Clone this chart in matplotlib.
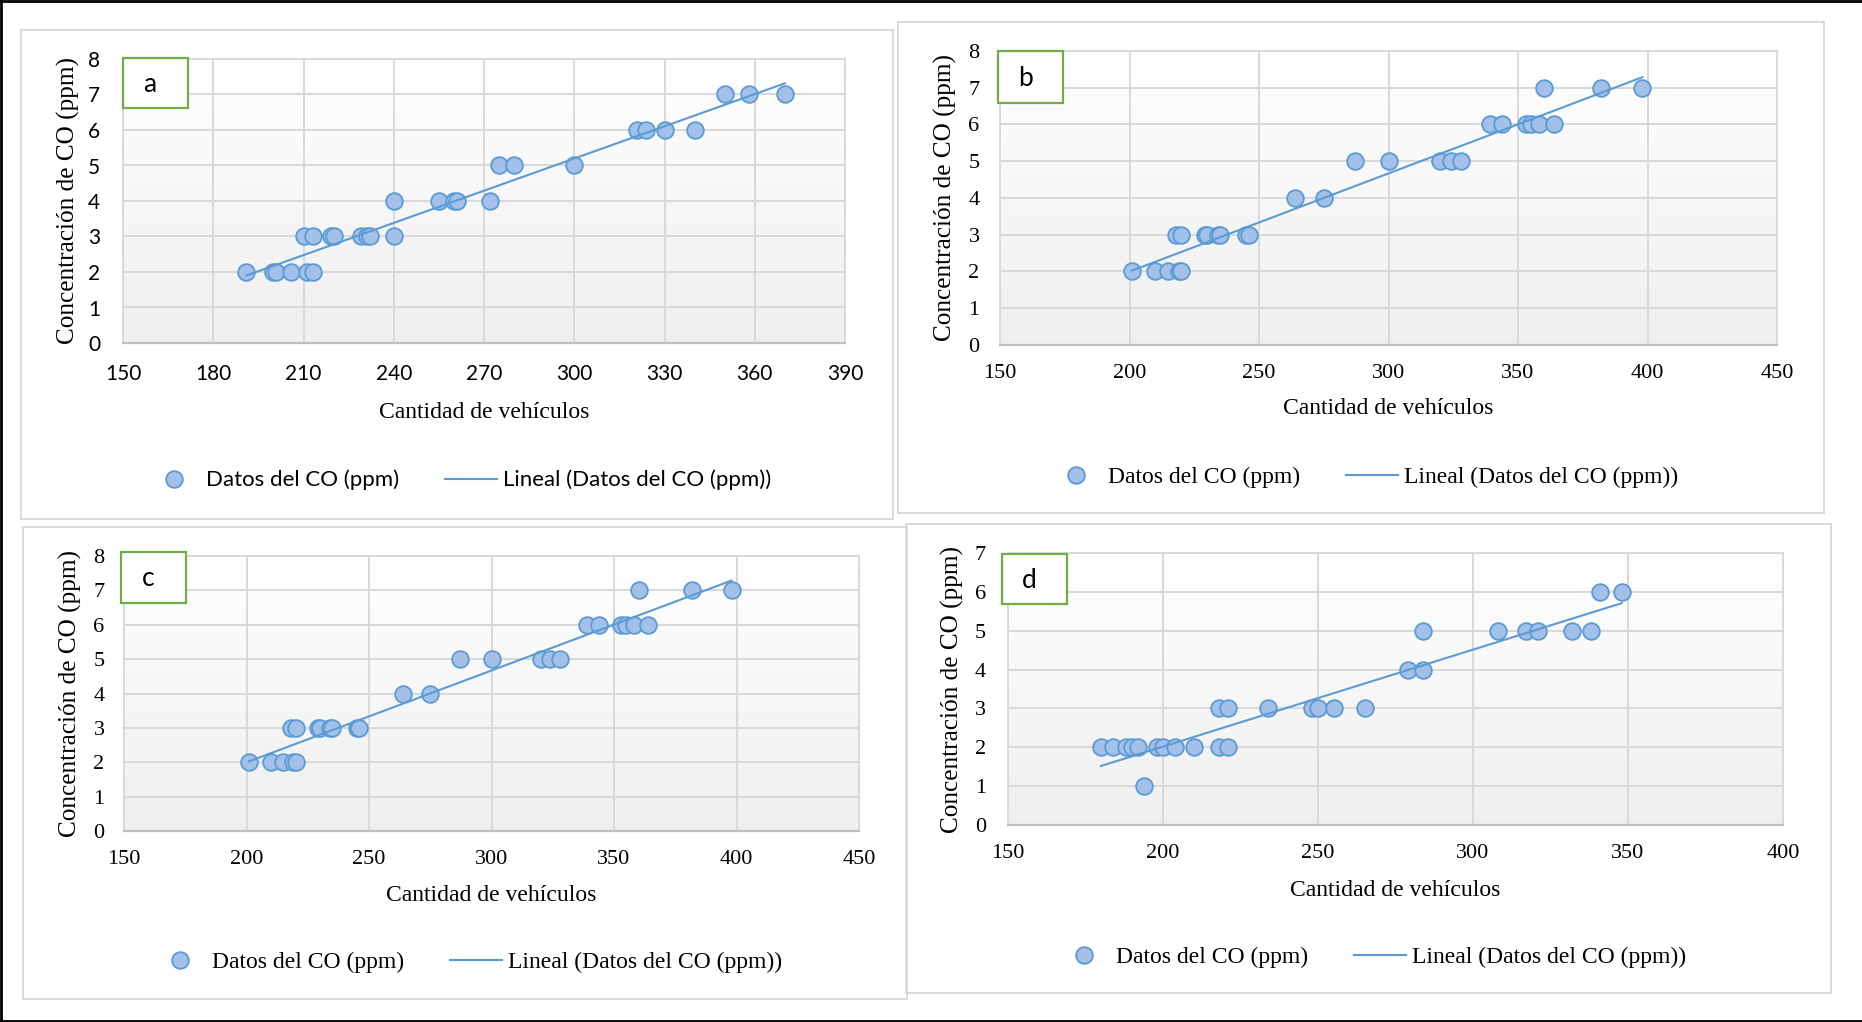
import numpy as np
import matplotlib
matplotlib.use('Agg')
import matplotlib.pyplot as plt
from matplotlib.colors import LinearSegmentedColormap
from matplotlib.lines import Line2D
from matplotlib.patches import Rectangle

# vehicle counts vs CO concentration, four sampling points
a_veh = [191, 200, 201, 206, 211, 213,
         210, 213, 219, 220, 229, 231, 232, 240,
         240, 255, 260, 261, 272,
         275, 280, 300,
         321, 324, 330, 340,
         350, 358, 370]
a_co = [2, 2, 2, 2, 2, 2,
        3, 3, 3, 3, 3, 3, 3, 3,
        4, 4, 4, 4, 4,
        5, 5, 5,
        6, 6, 6, 6,
        7, 7, 7]

b_veh = [201, 210, 215, 219, 220,
         218, 220, 229, 230, 234, 235, 245, 246,
         264, 275,
         287, 300, 320, 324, 328,
         339, 344, 353, 355, 358, 364,
         360, 382, 398]
b_co = [2, 2, 2, 2, 2,
        3, 3, 3, 3, 3, 3, 3, 3,
        4, 4,
        5, 5, 5, 5, 5,
        6, 6, 6, 6, 6, 6,
        7, 7, 7]

c_veh = [201, 210, 215, 219, 220,
         218, 220, 229, 230, 234, 235, 245, 246,
         264, 275,
         287, 300, 320, 324, 328,
         339, 344, 353, 355, 358, 364,
         360, 382, 398]
c_co = [2, 2, 2, 2, 2,
        3, 3, 3, 3, 3, 3, 3, 3,
        4, 4,
        5, 5, 5, 5, 5,
        6, 6, 6, 6, 6, 6,
        7, 7, 7]

d_veh = [194,
         180, 184, 188, 190, 192, 198, 200, 204, 210, 218, 221,
         218, 221, 234, 248, 250, 255, 265,
         279, 284,
         284, 308, 317, 321, 332, 338,
         341, 348]
d_co = [1,
        2, 2, 2, 2, 2, 2, 2, 2, 2, 2, 2,
        3, 3, 3, 3, 3, 3, 3,
        4, 4,
        5, 5, 5, 5, 5, 5,
        6, 6]

a_xticks = [150, 180, 210, 240, 270, 300, 330, 360, 390]
b_xticks = [150, 200, 250, 300, 350, 400, 450]
d_xticks = [150, 200, 250, 300, 350, 400]

XLABEL = 'Cantidad de vehículos'
YLABEL = 'Concentración de CO (ppm)'
SCATTER_LABEL = 'Datos del CO (ppm)'
TREND_LABEL = 'Lineal (Datos del CO (ppm))'

W, H = 1862, 1022
SERIF = 'Liberation Serif'
SANS = 'Lato'
FILL = '#a2c0e8'
EDGE = '#5b9bd5'
GRID = '#d9d9d9'

fig = plt.figure(figsize=(W / 100, H / 100), dpi=100)
fig.patch.set_facecolor('white')

bg_cmap = LinearSegmentedColormap.from_list('bg', ['#efefef', '#ffffff'])


def fx(x):
    return x / W


def fy(y):
    return 1 - y / H


def add_panel(box, plot, tag, veh, co, xticks, ymax, tick_font, tick_size,
              legend_font, legend_size, xpad, ypad, xlab_off, ylab_off, leg_xy):
    # panel frame
    x0, y0, x1, y1 = box
    fig.add_artist(Rectangle((fx(x0), fy(y1)), fx(x1 - x0), (y1 - y0) / H,
                             transform=fig.transFigure, fill=False,
                             edgecolor=GRID, lw=1.4, zorder=-1))

    px0, py0, px1, py1 = plot
    ax = fig.add_axes([fx(px0), fy(py1), fx(px1 - px0), (py1 - py0) / H])
    xmin, xmax = xticks[0], xticks[-1]
    ax.imshow(np.linspace(0, 1, 256).reshape(-1, 1), cmap=bg_cmap, origin='lower',
              extent=[xmin, xmax, 0, ymax], aspect='auto', zorder=-2)
    ax.set_xlim(xmin, xmax)
    ax.set_ylim(0, ymax)
    ax.set_xticks(xticks)
    ax.set_yticks(range(ymax + 1))
    ax.grid(True, color=GRID, lw=1.4)
    ax.set_axisbelow(True)
    for s in ['left', 'top', 'right']:
        ax.spines[s].set_color(GRID)
        ax.spines[s].set_linewidth(1.4)
    ax.spines['bottom'].set_color('#bfbfbf')
    ax.spines['bottom'].set_linewidth(1.6)
    ax.tick_params(length=0)
    ax.tick_params(axis='x', pad=xpad)
    ax.tick_params(axis='y', pad=ypad)
    for lab in ax.get_xticklabels() + ax.get_yticklabels():
        lab.set_fontfamily(tick_font)
        lab.set_fontsize(tick_size)

    # points and linear trend
    ax.plot(veh, co, 'o', ms=12, mfc=FILL, mec=EDGE, mew=1.3, zorder=3, clip_on=False)
    k, b = np.polyfit(veh, co, 1)
    xs = np.array([min(veh), max(veh)])
    ax.plot(xs, k * xs + b, color=EDGE, lw=1.5, zorder=4)

    ax.set_xlabel(XLABEL, family=SERIF, fontsize=17)
    ax.set_ylabel(YLABEL, family=SERIF, fontsize=18.2)
    hpx, wpx = py1 - py0, px1 - px0
    ax.xaxis.set_label_coords(0.5, -xlab_off / hpx)
    ax.yaxis.set_label_coords(-ylab_off / wpx, 0.5)

    # legend below the axes
    hs = [Line2D([], [], marker='o', ls='none', ms=12, mfc=FILL, mec=EDGE, mew=1.3),
          Line2D([], [], color=EDGE, lw=1.5)]
    em = legend_size / 72 * 100
    fig.legend(hs, [SCATTER_LABEL, TREND_LABEL], loc='center', ncol=2, frameon=False,
               bbox_to_anchor=(fx(leg_xy[0]), fy(leg_xy[1])),
               bbox_transform=fig.transFigure,
               prop=dict(family=legend_font, size=legend_size),
               handlelength=52 / em, handletextpad=6 / em, columnspacing=46 / em,
               borderpad=0)

    # panel tag
    tx0, ty0, tx1, ty1 = tag[0]
    fig.add_artist(Rectangle((fx(tx0), fy(ty1)), fx(tx1 - tx0), (ty1 - ty0) / H,
                             transform=fig.transFigure, facecolor='white',
                             edgecolor='#70ad47', lw=1.6, zorder=5))
    fig.text(fx(tx0 + 27), fy((ty0 + ty1) / 2 + 1), tag[1], family=SANS, fontsize=19,
             ha='center', va='center', zorder=6)
    return ax


add_panel((21, 30, 893, 519), (123, 59, 845, 343), ((123, 58, 188, 108), 'a'),
          a_veh, a_co, a_xticks, 8, SANS, 15, SANS, 16, 15, 16.5, 59, 43,
          (460, 480))
add_panel((898, 22, 1824, 513), (1000, 51, 1777, 345), ((998, 51, 1063, 103), 'b'),
          b_veh, b_co, b_xticks, 8, SERIF, 16, SERIF, 17, 13.5, 14.8, 53, 43,
          (1364, 477))
add_panel((23, 527, 907, 999), (124, 556, 859, 831), ((121, 552, 186, 603), 'c'),
          c_veh, c_co, b_xticks, 8, SERIF, 16, SERIF, 17, 13.5, 14, 54, 42,
          (468, 962))
add_panel((906, 524, 1831, 993), (1008, 553, 1783, 825), ((1002, 554, 1067, 604), 'd'),
          d_veh, d_co, d_xticks, 7, SERIF, 16, SERIF, 17, 13.5, 16, 55, 44,
          (1372, 957))

# thin black frame round the figure
for xs, ys in [([0, 1], [fy(1.3), fy(1.3)]), ([fx(1.2), fx(1.2)], [0, 1]),
               ([0, 1], [fy(1020.5), fy(1020.5)])]:
    fig.add_artist(Line2D(xs, ys, transform=fig.transFigure, color='black', lw=2))

fig.savefig('out.png', dpi=100)
